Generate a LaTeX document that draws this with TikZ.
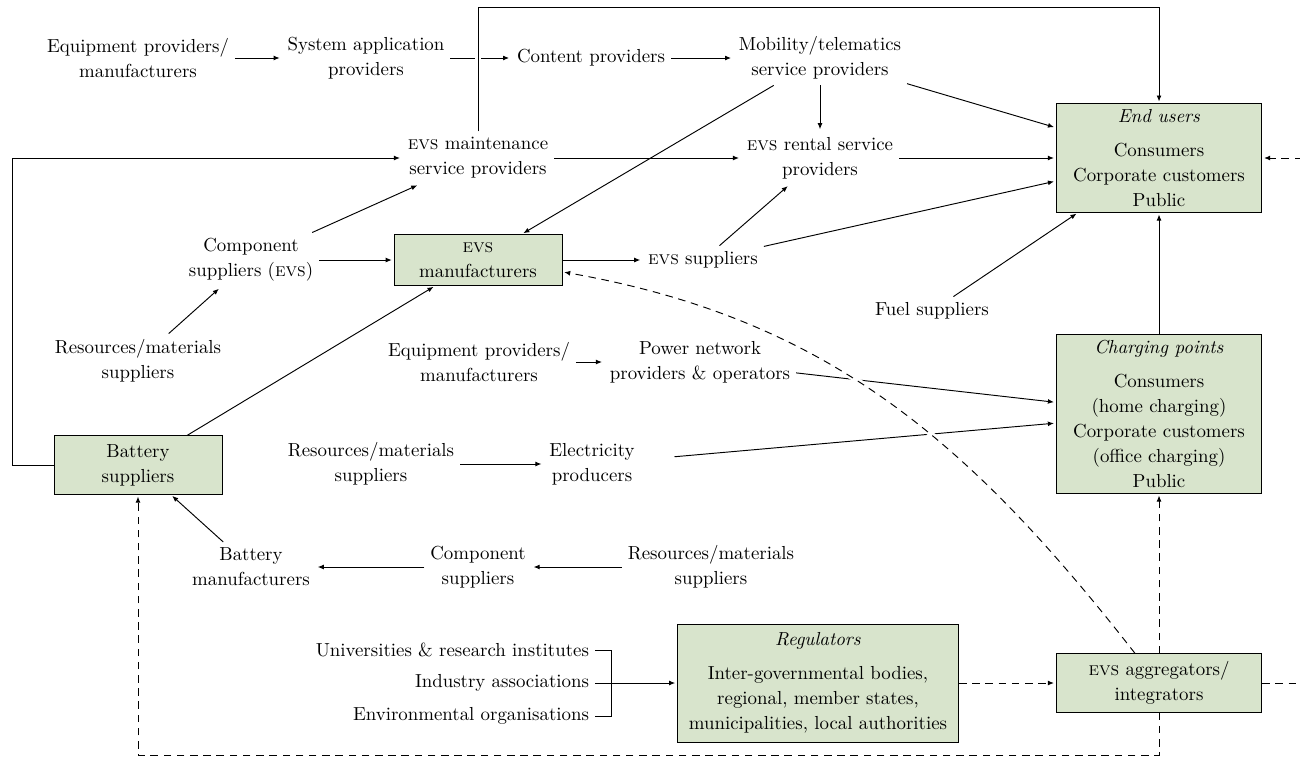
\documentclass[tikz,border=0pt]{standalone}
\usepackage{xcolor}
\usepackage{tikz}
\usetikzlibrary{arrows.meta,positioning}

\definecolor{boxgreen}{RGB}{216,228,204}
\newcommand{\evs}{\textsc{evs}}

\begin{document}
\begin{tikzpicture}[
      font=\fontsize{10pt}{13.2pt}\selectfont, x=0.53pt, y=-0.53pt,
      lbl/.style={align=center, inner sep=3pt},
      box/.style={draw, fill=boxgreen, align=center, inner xsep=4pt, inner ysep=3pt},
      wbox/.style={box, minimum width=109pt},
      ar/.style={-{Latex[length=3.2pt,width=2.6pt]}, line width=0.5pt, shorten >=1pt},
      ln/.style={line width=0.5pt},
      dsh/.style={ar, dash pattern=on 4pt off 3pt}]
    \useasboundingbox (0,0) rectangle (1300,758);
    % helper coordinates for the loops
    \coordinate (topy)  at (0,7);
    \coordinate (leftx) at (12,0);
    \coordinate (offr)  at (1330,0);
    \coordinate (boty)  at (0,755);
    \coordinate (brk)   at (611,683);
    % boxes
    \node[wbox] (endu)   at (1159,158) {\textit{End users}\\[4.8pt]Consumers\\Corporate customers\\Public};
    \node[wbox] (charge) at (1159,414) {\textit{Charging points}\\[4.8pt]Consumers\\(home charging)\\Corporate customers\\(office charging)\\Public};
    \node[wbox, minimum height=31pt] (aggr) at (1159,683) {\evs{} aggregators/\\integrators};
    \node[box, minimum width=89pt, minimum height=27pt] (evman) at (478,260) {\evs\\manufacturers};
    \node[box, minimum width=89pt, minimum height=31pt] (batt) at (138,465) {Battery\\suppliers};
    \node[box, minimum width=149pt, minimum height=62.5pt] (regul) at (818,683) {\textit{Regulators}\\[4.8pt]Inter-governmental bodies,\\regional, member states,\\municipalities, local authorities};
    % plain actors
    \node[lbl] (eqtop)   at (138,58)  {Equipment providers/\\manufacturers};
    \node[lbl] (sysapp)  at (366,58)  {System application\\providers};
    \node[lbl] (content) at (591,58)  {Content providers};
    \node[lbl] (mobil)   at (820,58)  {Mobility/telematics\\service providers};
    \node[lbl] (maint)   at (478,158) {\evs{} maintenance\\service providers};
    \node[lbl] (rental)  at (820,158) {\evs{} rental service\\providers};
    \node[lbl] (compev)  at (251,260) {Component\\suppliers (\evs)};
    \node[lbl] (evsup)   at (703,260) {\evs{} suppliers};
    \node[lbl] (fuel)    at (932,311) {Fuel suppliers};
    \node[lbl] (resup)   at (138,361) {Resources/materials\\suppliers};
    \node[lbl] (eqmid)   at (479,362) {Equipment providers/\\manufacturers};
    \node[lbl] (power)   at (700,362) {Power network\\providers \& operators};
    \node[lbl] (resmid)  at (371,464) {Resources/materials\\suppliers};
    \node[lbl] (elec)    at (592,464) {Electricity\\producers};
    \node[lbl] (batman)  at (251,567) {Battery\\manufacturers};
    \node[lbl] (compbot) at (478,567) {Component\\suppliers};
    \node[lbl] (resbot)  at (711,567) {Resources/materials\\suppliers};
    \node[lbl, anchor=east] (univ)  at (595,650) {Universities \& research institutes};
    \node[lbl, anchor=east] (indus) at (595,683) {Industry associations};
    \node[lbl, anchor=east] (env)   at (595,716) {Environmental organisations};
    % connectors
    \draw[ar] (eqtop) -- (sysapp);
    \draw[ar] (sysapp) -- (content);
    \draw[ar] (content) -- (mobil);
    \draw[ar] (mobil) -- (rental);
    \draw[ar] (mobil) -- (evman);
    \draw[ar] (mobil) -- (endu);
    \draw[ar] (maint) -- (rental);
    \draw[ar] (rental) -- (endu);
    \draw[ar] (evsup) -- (rental);
    \draw[ar] (evsup) -- (endu);
    \draw[ar] (fuel) -- (endu);
    \draw[ar] (charge) -- (endu);
    \draw[ar, preaction={draw=white, line width=3pt, -}] (maint.north) -- (maint.north |- topy) -| (endu.north);
    \draw[ar] (batt.west) -- (batt.west -| leftx) |- (maint.west);
    \draw[ar] (compev) -- (maint);
    \draw[ar] (compev) -- (evman);
    \draw[ar] (resup) -- (compev);
    \draw[ar] (batt) -- (evman);
    \draw[ar] (evman) -- (evsup);
    \draw[ar] (eqmid) -- (power);
    \draw[ar] (power) -- (charge);
    \draw[ar] (resmid) -- (elec);
    \draw[ar, shorten <=18pt] (elec) -- (charge);
    \draw[ar] (batman) -- (batt);
    \draw[ar] (compbot) -- (batman);
    \draw[ar] (resbot) -- (compbot);
    \draw[ln] (univ.east) -| (brk) |- (env.east);
    \draw[ar] (indus) -- (regul);
    \draw[dsh] (regul) -- (aggr);
    \draw[dsh] (aggr) -- (charge);
    \draw[dsh] (aggr.east) -- (aggr.east -| offr) |- (endu.east);
    \draw[dsh] (aggr.south) -- (aggr.south |- boty) -| (batt.south);
    \draw[dsh, preaction={draw=white, line width=3pt, solid, -, shorten <=4pt, shorten >=4pt}] (aggr.129) to[out=128, in=-10] (evman.-8);
\end{tikzpicture}
\end{document}
